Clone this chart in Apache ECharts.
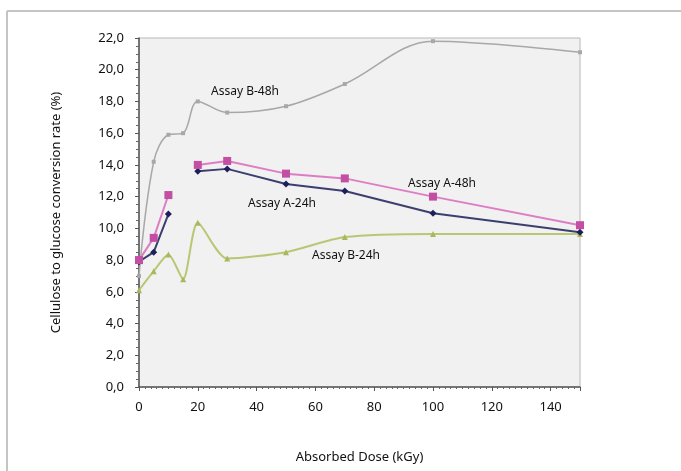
<!DOCTYPE html>
<html>
<head>
<meta charset="utf-8">
<script src="https://cdn.jsdelivr.net/npm/echarts@6/dist/echarts.min.js"></script>
<style>
  html, body { margin: 0; padding: 0; background: #fff; }
  #chart { width: 681px; height: 471px; }
</style>
</head>
<body>
<div id="chart"></div>
<script>
// dose points (kGy)
const doses = [0, 5, 10, 15, 20, 30, 50, 70, 100, 150]
// conversion rate (%), null = not measured
const assayB48 = [7.0, 14.2, 15.9, 16.0, 18.0, 17.3, 17.7, 19.1, 21.8, 21.1]
const assayA48 = [8.0, 9.4, 12.1, null, 14.0, 14.25, 13.45, 13.15, 12.0, 10.2]
const assayA24 = [7.9, 8.5, 10.9, null, 13.6, 13.75, 12.8, 12.35, 10.95, 9.75]
const assayB24 = [6.1, 7.3, 8.35, 6.8, 10.35, 8.1, 8.5, 9.45, 9.65, 9.65]
const xTicks = [0, 20, 40, 60, 80, 100, 120, 140]

const font = '"Noto Sans", "Open Sans", sans-serif'

function pairs(vals) {
  return doses.map((d, i) => [d, vals[i]])
}

const chart = echarts.init(document.getElementById('chart'))

const option = {
  animation: false,
  textStyle: { fontFamily: font, color: '#111' },
  grid: {
    left: 139, right: 101, top: 38, bottom: 84,
    show: true,
    backgroundColor: '#f1f1f1',
    borderColor: '#b8b8b8',
    borderWidth: 1
  },
  xAxis: {
    type: 'value',
    min: 0, max: 150, interval: 20,
    name: 'Absorbed Dose (kGy)',
    nameLocation: 'middle',
    nameGap: 64,
    nameTextStyle: { fontSize: 13, color: '#111', fontFamily: font },
    axisLine: { lineStyle: { color: '#555', width: 1.5 } },
    axisTick: { length: 4, lineStyle: { color: '#555' } },
    minorTick: { show: true, splitNumber: 10, length: 2, lineStyle: { color: '#666' } },
    splitLine: { show: false },
    axisLabel: {
      fontSize: 13, color: '#111', margin: 14, fontFamily: font,
      formatter: v => xTicks.includes(v) ? String(v) : ''
    }
  },
  yAxis: {
    type: 'value',
    min: 0, max: 22, interval: 2,
    name: 'Cellulose to glucose conversion rate (%)',
    nameLocation: 'middle',
    nameGap: 76,
    nameTextStyle: { fontSize: 13, color: '#111', fontFamily: font },
    axisLine: { show: true, lineStyle: { color: '#555', width: 1.5 } },
    axisTick: { show: true, length: 4, lineStyle: { color: '#555' } },
    minorTick: { show: true, splitNumber: 4, length: 3, lineStyle: { color: '#666' } },
    splitLine: { show: false },
    axisLabel: {
      fontSize: 13, color: '#111', margin: 15, fontFamily: font,
      formatter: v => v.toFixed(1).replace('.', ',')
    }
  },
  series: [
    {
      name: 'Assay B-48h',
      type: 'line',
      data: pairs(assayB48),
      smooth: 0.35,
      symbol: 'rect',
      symbolSize: 4,
      itemStyle: { color: '#a8a8a8' },
      lineStyle: { color: '#a8a8a8', width: 1.5 }
    },
    {
      name: 'Assay B-24h',
      type: 'line',
      data: pairs(assayB24),
      smooth: 0.25,
      symbol: 'triangle',
      symbolSize: 6,
      itemStyle: { color: '#a9b85c' },
      lineStyle: { color: '#b9c774', width: 2 }
    },
    {
      name: 'Assay A-24h',
      type: 'line',
      data: pairs(assayA24),
      connectNulls: false,
      symbol: 'diamond',
      symbolSize: 7,
      itemStyle: { color: '#1c1f5c' },
      lineStyle: { color: '#3b3f6e', width: 2 }
    },
    {
      name: 'Assay A-48h',
      type: 'line',
      data: pairs(assayA48),
      connectNulls: false,
      symbol: 'rect',
      symbolSize: 8,
      itemStyle: { color: '#c34ea3' },
      lineStyle: { color: '#dd7ec4', width: 2 }
    }
  ],
  graphic: [
    // outer frame of the figure
    { type: 'line', shape: { x1: 7, y1: 11, x2: 681, y2: 11 }, style: { stroke: '#c4c4c4', lineWidth: 2 } },
    { type: 'line', shape: { x1: 7, y1: 11, x2: 7, y2: 471 }, style: { stroke: '#c4c4c4', lineWidth: 2 } },
    // series labels
    { type: 'text', x: 245, y: 92, style: { text: 'Assay B-48h', font: '12px ' + font, fill: '#111', align: 'center', verticalAlign: 'middle' } },
    { type: 'text', x: 282, y: 204, style: { text: 'Assay A-24h', font: '12px ' + font, fill: '#111', align: 'center', verticalAlign: 'middle' } },
    { type: 'text', x: 442, y: 184, style: { text: 'Assay A-48h', font: '12px ' + font, fill: '#111', align: 'center', verticalAlign: 'middle' } },
    { type: 'text', x: 346, y: 256, style: { text: 'Assay B-24h', font: '12px ' + font, fill: '#111', align: 'center', verticalAlign: 'middle' } }
  ]
}

chart.setOption(option)
</script>
</body>
</html>
